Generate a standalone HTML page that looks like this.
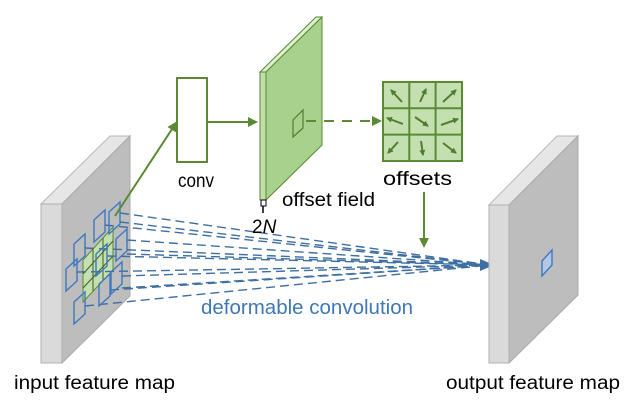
<!DOCTYPE html>
<html><head><meta charset="utf-8"><style>
html,body{margin:0;padding:0;background:#fff;}
svg{display:block;}
text{font-family:"Liberation Sans",sans-serif;}
</style></head><body>
<svg width="628" height="402" viewBox="0 0 628 402" xmlns="http://www.w3.org/2000/svg">
<defs>
<marker id="ag" markerWidth="10" markerHeight="10" refX="8" refY="5" orient="auto" markerUnits="userSpaceOnUse"><path d="M0,0 L10,5 L0,10 z" fill="#5a8a33"/></marker>
<marker id="ab" markerWidth="14" markerHeight="12" refX="12" refY="6" orient="auto" markerUnits="userSpaceOnUse"><path d="M0,0 L14,6 L0,12 z" fill="#3e6fa0"/></marker>
<marker id="as" markerWidth="6" markerHeight="6" refX="5" refY="3" orient="auto" markerUnits="userSpaceOnUse"><path d="M0,0 L6,3 L0,6 z" fill="#4f7f2e"/></marker>
</defs>
<polygon points="41,204 110,136 130,136 62,204" fill="#e6e6e6" stroke="#b8b8b8" stroke-width="1"/>
<polygon points="62,204 130,136 130,296 62,363" fill="#bdbdbd" stroke="#aaa" stroke-width="1"/>
<rect x="41" y="204" width="21" height="159" fill="#dadada" stroke="#b0b0b0" stroke-width="1"/>
<polygon points="83,260 113,227 113,270 83,302" fill="#c5e0b0" stroke="#5a8a33" stroke-width="1"/>
<g stroke="#3d5e22" stroke-width="1">
<line x1="93" y1="249" x2="93" y2="291"/><line x1="103" y1="238" x2="103" y2="281"/>
<line x1="83" y1="274" x2="113" y2="241"/><line x1="83" y1="288" x2="113" y2="256"/>
</g>
<g stroke="#3e6fa0" stroke-width="1.4" stroke-dasharray="9,5" fill="none">
<line x1="105" y1="225" x2="490" y2="265"/>
<line x1="120" y1="213" x2="490" y2="265"/>
<line x1="120" y1="222" x2="490" y2="265"/>
<line x1="85" y1="248" x2="490" y2="265"/>
<line x1="107" y1="256" x2="490" y2="265"/>
<line x1="127" y1="240" x2="490" y2="265"/>
<line x1="127" y1="254" x2="490" y2="265"/>
<line x1="77" y1="272" x2="490" y2="265"/>
<line x1="110" y1="290" x2="490" y2="265"/>
<line x1="122" y1="276" x2="490" y2="265"/>
<line x1="85" y1="306" x2="490" y2="265"/>
<line x1="122" y1="288" x2="490" y2="265"/>
</g>
<line x1="470" y1="265" x2="492" y2="265" stroke="#3e6fa0" stroke-width="1.5" marker-end="url(#ab)"/>
<g fill="none" stroke="#3e78c0" stroke-width="1.4">
<polygon points="94,242 105,232 105,210 94,220"/>
<polygon points="109,234 120,224 120,202 109,212"/>
<polygon points="74,266 85,256 85,234 74,244"/>
<polygon points="96,276 107,266 107,244 96,254"/>
<polygon points="116,261 127,251 127,229 116,239"/>
<polygon points="66,291 77,281 77,259 66,269"/>
<polygon points="99,306 110,296 110,274 99,284"/>
<polygon points="111,294 122,284 122,262 111,272"/>
<polygon points="74,324 85,314 85,292 74,302"/>
</g>
<line x1="115" y1="216" x2="176" y2="123" stroke="#5a8a33" stroke-width="2" marker-end="url(#ag)"/>
<rect x="177" y="78" width="30" height="84" fill="#fff" stroke="#5a8a33" stroke-width="2"/>
<line x1="207" y1="122" x2="256" y2="122" stroke="#5a8a33" stroke-width="2" marker-end="url(#ag)"/>
<polygon points="260,72 316,17 322,17 266,72" fill="#dcefcf" stroke="#5a8a33" stroke-width="1"/>
<polygon points="266,72 322,17 322,145 266,200" fill="#a9d18e" stroke="#5a8a33" stroke-width="1"/>
<rect x="260" y="72" width="6" height="128" fill="#c0dfa8" stroke="#5a8a33" stroke-width="1"/>
<rect x="261" y="200" width="5" height="6" fill="#fff" stroke="#000" stroke-width="1"/>
<line x1="263" y1="206" x2="263" y2="213" stroke="#000" stroke-width="1.5"/>
<polygon points="293,120 303,110 303,128 293,137" fill="none" stroke="#4f7f2e" stroke-width="1.2"/>
<line x1="306" y1="121" x2="380" y2="121" stroke="#5a8a33" stroke-width="2" stroke-dasharray="10,8" marker-end="url(#ag)"/>
<rect x="383" y="82" width="79" height="79" fill="#c5e0b0" stroke="#5a8a33" stroke-width="2"/>
<g stroke="#5a8a33" stroke-width="2">
<line x1="409.3" y1="82" x2="409.3" y2="161"/><line x1="435.6" y1="82" x2="435.6" y2="161"/>
<line x1="383" y1="108.3" x2="462" y2="108.3"/><line x1="383" y1="134.6" x2="462" y2="134.6"/>
</g>
<g stroke="#4f7f2e" stroke-width="2" marker-end="url(#as)">
<line x1="402" y1="102" x2="391" y2="90"/>
<line x1="420" y1="102" x2="426" y2="89"/>
<line x1="443" y1="102" x2="456" y2="90"/>
<line x1="403" y1="124" x2="387" y2="118"/>
<line x1="415" y1="117" x2="428" y2="126"/>
<line x1="441" y1="125" x2="458" y2="119"/>
<line x1="398" y1="142" x2="388" y2="153"/>
<line x1="421" y1="141" x2="423" y2="155"/>
<line x1="443" y1="143" x2="456" y2="153"/>
</g>
<line x1="424" y1="192" x2="424" y2="246" stroke="#5a8a33" stroke-width="2" marker-end="url(#ag)"/>
<polygon points="489,205 557,136 578,136 509,205" fill="#e6e6e6" stroke="#b8b8b8" stroke-width="1"/>
<polygon points="509,205 578,136 578,295 509,363" fill="#bdbdbd" stroke="#aaa" stroke-width="1"/>
<rect x="489" y="205" width="20" height="158" fill="#dadada" stroke="#b0b0b0" stroke-width="1"/>
<polygon points="542,261 552,250 552,265 542,276" fill="#b4c7e7" stroke="#3e78c0" stroke-width="1.4"/>
<text x="178" y="187" font-size="19" fill="#000" textLength="36" lengthAdjust="spacingAndGlyphs">conv</text>
<text x="282" y="206" font-size="19" fill="#000" textLength="93" lengthAdjust="spacingAndGlyphs">offset field</text>
<text x="383" y="185" font-size="19" fill="#000" textLength="69" lengthAdjust="spacingAndGlyphs">offsets</text>
<text x="252" y="233" font-size="19" fill="#000" font-family="Liberation Serif,serif">2<tspan font-style="italic">N</tspan></text>
<text x="201" y="314" font-size="20" fill="#3e78b8" textLength="212" lengthAdjust="spacingAndGlyphs">deformable convolution</text>
<text x="14" y="389" font-size="19" fill="#000" textLength="161" lengthAdjust="spacingAndGlyphs">input feature map</text>
<text x="446" y="389" font-size="19" fill="#000" textLength="174" lengthAdjust="spacingAndGlyphs">output feature map</text>
</svg>
</body></html>
